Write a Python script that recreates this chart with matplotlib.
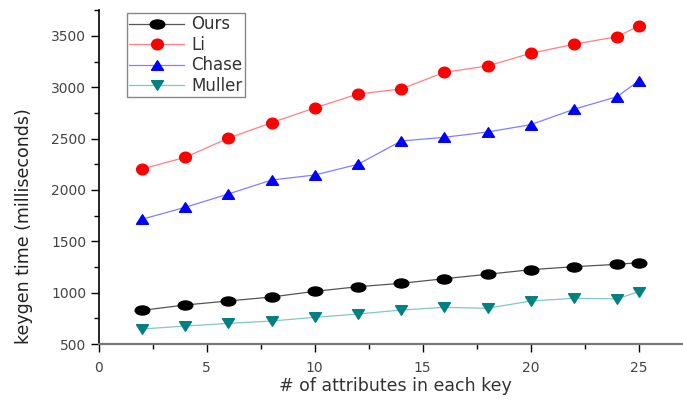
import matplotlib
matplotlib.use("Agg")
import matplotlib.pyplot as plt
from matplotlib.ticker import MultipleLocator
from matplotlib.path import Path
from matplotlib.transforms import Affine2D

plt.rcParams['font.family'] = ['DejaVu Sans']

# number of attributes
attrs = [2, 4, 6, 8, 10, 12, 14, 16, 18, 20, 22, 24, 25]

# keygen times (ms)
ours = [828, 880, 919, 958, 1013, 1058, 1091, 1136, 1179, 1224, 1253, 1276, 1292]
li = [2204, 2318, 2504, 2656, 2799, 2935, 2984, 3146, 3208, 3331, 3419, 3493, 3597]
chase = [1715, 1831, 1961, 2097, 2146, 2250, 2477, 2513, 2565, 2636, 2786, 2909, 3062]
muller = [646, 675, 701, 724, 760, 792, 831, 857, 848, 919, 945, 940, 1010]

# the source picture is stretched sideways, so the markers are a bit flattened
oval = Path.unit_circle().transformed(Affine2D().scale(1.0, 0.62))
dot = Path.unit_circle().transformed(Affine2D().scale(1.0, 0.9))
up = Path([(0, 1), (-1, -1), (1, -1), (0, 1)], closed=True).transformed(Affine2D().scale(1.0, 0.8))
down = Path([(0, -1), (-1, 1), (1, 1), (0, -1)], closed=True).transformed(Affine2D().scale(1.0, 0.8))

fig = plt.figure(figsize=(6.83, 4.01), dpi=100)
ax = fig.add_axes([0.1445, 0.1421, 0.8555, 0.8322])

ax.plot(attrs, ours, color='#555555', lw=0.9, marker=oval, ms=10.5,
        mfc='black', mec='black', label='Ours')
ax.plot(attrs, li, color='#ff8080', lw=0.9, marker=dot, ms=8.5,
        mfc='red', mec='red', label='Li')
ax.plot(attrs, chase, color='#8080ff', lw=0.9, marker=up, ms=8.6,
        mfc='blue', mec='blue', label='Chase')
ax.plot(attrs, muller, color='#80c8c8', lw=0.9, marker=down, ms=8.6,
        mfc='#008080', mec='#008080', label='Muller')

ax.set_xlim(0, 27.05)
ax.set_ylim(500, 3750)
ax.xaxis.set_major_locator(MultipleLocator(5))
ax.xaxis.set_minor_locator(MultipleLocator(2.5))
ax.yaxis.set_major_locator(MultipleLocator(500))
ax.yaxis.set_minor_locator(MultipleLocator(250))

ax.spines['top'].set_visible(False)
ax.spines['right'].set_visible(False)
ax.spines['left'].set_linewidth(1.2)
ax.spines['bottom'].set_linewidth(1.6)
ax.spines['bottom'].set_color('#777777')

ax.tick_params(which='major', direction='out', length=6, width=1, labelsize=10,
               labelcolor='#444444')
ax.tick_params(which='minor', direction='out', length=3.5, width=1)
ax.tick_params(axis='y', which='major', pad=3)
ax.tick_params(axis='x', which='major', pad=6)

ax.set_xlabel('# of attributes in each key', fontsize=12.5, color='#333333')
ax.xaxis.set_label_coords(0.508, -0.10)
ax.set_ylabel('keygen time (milliseconds)', fontsize=12.5, color='#222222')
ax.yaxis.set_label_coords(-0.113, 0.353)

leg = ax.legend(loc='upper left', bbox_to_anchor=(0.048, 0.992), borderaxespad=0,
                fontsize=12, fancybox=False, framealpha=1, edgecolor='#888888',
                handlelength=3.3, handletextpad=0.4, labelspacing=0.15,
                borderpad=0.15, labelcolor='#333333')
leg.get_frame().set_linewidth(1.0)

fig.savefig('out.png', dpi=100)
